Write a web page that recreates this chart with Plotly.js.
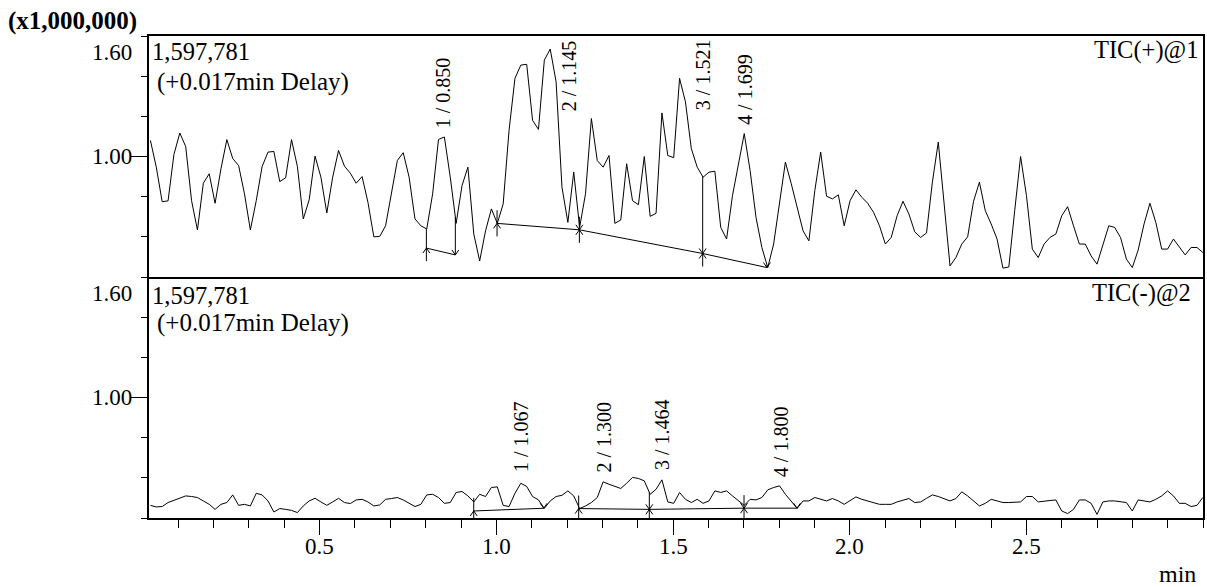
<!DOCTYPE html>
<html><head><meta charset="utf-8">
<script src="https://cdn.plot.ly/plotly-3.0.1.min.js"></script>
<style>html,body{margin:0;padding:0;background:#fff;} #chart{width:1207px;height:587px;}</style>
</head><body><div id="chart"></div>
<script>
// ---------- data ----------
const scanStart = 0.021;      // min, first scan shown
const scanInterval = 0.01664; // min between scans
const ticPositive = [
1.080,0.947,0.775,0.779,1.010,1.117,1.050,0.780,0.634,0.867,
0.914,0.767,0.939,1.084,0.990,0.955,0.814,0.634,0.780,0.950,
1.022,1.025,0.875,0.894,1.084,0.950,0.689,0.784,1.002,0.897,
0.719,0.897,1.030,0.952,0.917,0.867,0.900,0.772,0.600,0.602,
0.655,0.822,0.980,1.019,0.897,0.689,0.655,0.639,0.814,1.085,
1.097,0.897,0.667,0.855,0.947,0.614,0.480,0.630,0.739,0.667,
0.764,1.130,1.389,1.455,1.459,1.180,1.135,1.480,1.535,1.372,
0.847,0.672,0.922,0.647,0.814,1.189,0.980,0.947,1.005,0.667,
0.684,0.964,0.780,0.760,1.000,0.702,0.717,1.217,1.005,0.994,
1.389,1.272,1.039,0.947,0.897,0.922,0.927,0.647,0.589,0.805,
0.964,1.114,0.930,0.697,0.547,0.447,0.564,0.780,0.972,0.864,
0.747,0.630,0.580,0.830,1.022,0.802,0.789,0.809,0.655,0.780,
0.834,0.797,0.767,0.722,0.655,0.564,0.597,0.705,0.777,0.714,
0.625,0.597,0.619,0.872,1.072,0.747,0.455,0.497,0.564,0.600,
0.777,0.872,0.730,0.664,0.589,0.444,0.450,0.730,1.000,0.805,
0.539,0.497,0.564,0.597,0.614,0.705,0.750,0.655,0.564,0.564,
0.505,0.464,0.564,0.655,0.647,0.597,0.489,0.447,0.534,0.664,
0.767,0.672,0.539,0.539,0.589,0.550,0.510,0.547,0.547,0.522];
const ticNegative = [
0.463,0.455,0.457,0.477,0.488,0.498,0.510,0.507,0.502,0.485,
0.468,0.443,0.468,0.477,0.515,0.463,0.468,0.460,0.523,0.515,
0.485,0.430,0.447,0.443,0.438,0.427,0.460,0.485,0.498,0.480,
0.463,0.480,0.498,0.477,0.472,0.490,0.493,0.480,0.460,0.465,
0.493,0.497,0.502,0.490,0.473,0.457,0.468,0.515,0.518,0.502,
0.473,0.477,0.527,0.532,0.510,0.480,0.518,0.507,0.552,0.555,
0.463,0.457,0.523,0.573,0.557,0.507,0.490,0.448,0.485,0.507,
0.513,0.535,0.510,0.447,0.460,0.477,0.502,0.580,0.568,0.557,
0.547,0.573,0.602,0.597,0.585,0.518,0.543,0.590,0.480,0.473,
0.527,0.493,0.477,0.493,0.473,0.485,0.535,0.527,0.535,0.510,
0.485,0.463,0.493,0.490,0.502,0.540,0.552,0.560,0.518,0.485,
0.448,0.485,0.485,0.502,0.493,0.485,0.497,0.485,0.468,0.485,
0.505,0.493,0.485,0.477,0.468,0.468,0.468,0.480,0.490,0.497,
0.477,0.480,0.498,0.515,0.507,0.497,0.485,0.497,0.530,0.510,
0.485,0.460,0.473,0.493,0.485,0.477,0.477,0.477,0.480,0.507,
0.507,0.480,0.485,0.487,0.490,0.435,0.422,0.443,0.490,0.490,
0.473,0.418,0.480,0.485,0.485,0.480,0.477,0.435,0.490,0.485,
0.480,0.493,0.510,0.535,0.510,0.473,0.473,0.457,0.463,0.502];

const timeRange = [0.017, 3.0];
const intensityRange = [0.4, 1.6];
const xTickValues = [0.5, 1.0, 1.5, 2.0, 2.5];
const xTickLabels = ['0.5', '1.0', '1.5', '2.0', '2.5'];
const yTickValues = [1.0];
const yTickLabels = ['1.00'];
const yTopLabel = '1.60';
const scaleLabel = '(x1,000,000)';
const timeUnit = 'min';
const maxIntensityText = '1,597,781';
const delayText = '(+0.017min Delay)';
const channelNames = ['TIC(+)@1', 'TIC(-)@2'];

const posPeakLabels = ['1 / 0.850', '2 / 1.145', '3 / 1.521', '4 / 1.699'];
const posPeakLabelTimes = [0.850, 1.204, 1.587, 1.705];
const posPeakLabelHeights = [1.13, 1.215, 1.222, 1.147];
const posBoundaryTimes = [0.802, 0.884, 1.002, 1.235, 1.584, 1.766];
const posBoundaryBase = [0.544, 0.510, 0.667, 0.635, 0.517, 0.447];

const negPeakLabels = ['1 / 1.067', '2 / 1.300', '3 / 1.464', '4 / 1.800'];
const negPeakLabelTimes = [1.068, 1.304, 1.469, 1.804];
const negPeakLabelHeights = [0.618, 0.618, 0.627, 0.593];
const negBoundaryTimes = [0.936, 1.134, 1.233, 1.433, 1.701, 1.851];
const negBoundaryBase = [0.435, 0.4485, 0.447, 0.443, 0.449, 0.449];

const boundaryKinds = ['start', 'end', 'start', 'both', 'both', 'end'];

// ---------- drawing ----------
const FONT = 'Liberation Serif, Times New Roman, serif';
const LINE = 'black';
const EXT = 0.065, HW = 0.0099, HH = 0.025;

function valueAt(series, t) {
  const f = (t - scanStart) / scanInterval;
  const i = Math.max(0, Math.min(series.length - 2, Math.floor(f)));
  const r = f - i;
  return series[i] * (1 - r) + series[i + 1] * r;
}

function peakMarks(series, times, base, kinds) {
  const x = [], y = [];
  for (let k = 0; k < times.length; k++) {
    const t = times[k], b = base[k], kind = kinds[k];
    if ((kind === 'start' || kind === 'both') && k + 1 < times.length) {
      x.push(t, times[k + 1], null); y.push(b, base[k + 1], null);
    }
    const tr = valueAt(series, t);
    let top, bot;
    if (kind === 'end') { top = Math.max(tr, b); bot = b; }
    else { top = Math.max(tr, b + EXT); bot = b - EXT; }
    x.push(t, t, null); y.push(top, bot, null);
    if (kind === 'start' || kind === 'both') {
      x.push(t - HW, t, t + HW, null); y.push(b - HH, b, b - HH, null);
    }
    if (kind === 'end' || kind === 'both') {
      x.push(t - HW, t, t + HW, null); y.push(b + HH, b, b + HH, null);
    }
  }
  return {x, y};
}

const posMarks = peakMarks(ticPositive, posBoundaryTimes, posBoundaryBase, boundaryKinds);
const negMarks = peakMarks(ticNegative, negBoundaryTimes, negBoundaryBase, boundaryKinds);

const traces = [
  {type: 'scatter', mode: 'lines', y: ticPositive, x0: scanStart, dx: scanInterval,
   xaxis: 'x2', yaxis: 'y2', line: {color: LINE, width: 1}, hoverinfo: 'skip'},
  {type: 'scatter', mode: 'lines', y: ticNegative, x0: scanStart, dx: scanInterval,
   xaxis: 'x', yaxis: 'y', line: {color: LINE, width: 1}, hoverinfo: 'skip'},
  {type: 'scatter', mode: 'lines', x: posMarks.x, y: posMarks.y, xaxis: 'x2', yaxis: 'y2',
   line: {color: LINE, width: 1}, connectgaps: false, hoverinfo: 'skip'},
  {type: 'scatter', mode: 'lines', x: negMarks.x, y: negMarks.y, xaxis: 'x', yaxis: 'y',
   line: {color: LINE, width: 1}, connectgaps: false, hoverinfo: 'skip'}
];

const PL = 149, PT = 36, PW = 1054, PH = 482;
const px = v => (v - PL) / PW;
const py = v => (PT + PH - v) / PH;

function textAnn(text, x, y, xanchor, size, bold) {
  return {xref: 'paper', yref: 'paper', x: px(x), y: py(y), xanchor: xanchor, yanchor: 'middle',
    text: bold ? '<b>' + text + '</b>' : text, showarrow: false,
    font: {family: FONT, size: size, color: 'black'}};
}

const annotations = [
  textAnn(scaleLabel, 6, 21, 'left', 25, true),
  textAnn(yTopLabel, 134, 52, 'right', 23),
  textAnn(yTopLabel, 134, 293, 'right', 23),
  textAnn(maxIntensityText, 150, 51, 'left', 24.5),
  textAnn(delayText, 155, 82, 'left', 25),
  textAnn(channelNames[0], 1200, 50, 'right', 24.5),
  textAnn(maxIntensityText, 150, 295, 'left', 24.5),
  textAnn(delayText, 155, 323, 'left', 25),
  textAnn(channelNames[1], 1193, 293, 'right', 24.5),
  textAnn(timeUnit, 1198, 574, 'right', 24)
];
// tick labels placed tight against their ticks
xTickValues.forEach((v, i) => annotations.push({xref: 'x', yref: 'paper', x: v, y: py(546.5),
  xanchor: 'center', yanchor: 'middle', text: xTickLabels[i], showarrow: false,
  font: {family: FONT, size: 23, color: 'black'}}));
['y', 'y2'].forEach(ax => yTickValues.forEach((v, i) => annotations.push({xref: 'paper', yref: ax,
  x: px(134), y: v, xanchor: 'right', yanchor: 'middle', text: yTickLabels[i], showarrow: false,
  font: {family: FONT, size: 23, color: 'black'}})));
posPeakLabels.forEach((t, i) => annotations.push({xref: 'x2', yref: 'y2', x: posPeakLabelTimes[i],
  y: posPeakLabelHeights[i], text: t, textangle: -90, xanchor: 'center', yanchor: 'bottom',
  showarrow: false, font: {family: FONT, size: 20, color: 'black'}}));
negPeakLabels.forEach((t, i) => annotations.push({xref: 'x', yref: 'y', x: negPeakLabelTimes[i],
  y: negPeakLabelHeights[i], text: t, textangle: -90, xanchor: 'center', yanchor: 'bottom',
  showarrow: false, font: {family: FONT, size: 20, color: 'black'}}));

const yCommon = {range: intensityRange, tickvals: yTickValues, showticklabels: false,
  ticks: 'outside', ticklen: 16, tickwidth: 1, tickcolor: 'black',
  minor: {dtick: 0.2, tick0: 0.4, ticks: 'outside', ticklen: 6, tickwidth: 1, tickcolor: 'black', showgrid: false},
  showline: true, linecolor: 'black', linewidth: 2, mirror: true, showgrid: false, zeroline: false,
  fixedrange: true};

const layout = {
  width: 1207, height: 587,
  margin: {l: PL, r: 1207 - PL - PW, t: PT, b: 587 - PT - PH, pad: 0},
  paper_bgcolor: 'white', plot_bgcolor: 'white', showlegend: false,
  font: {family: FONT, color: 'black'},
  xaxis: {domain: [0, 1], anchor: 'y', range: timeRange, tickvals: xTickValues, showticklabels: false,
    ticks: 'outside', ticklen: 15, tickwidth: 1, tickcolor: 'black',
    minor: {dtick: 0.1, tick0: 0, ticks: 'outside', ticklen: 8, tickwidth: 1, tickcolor: 'black', showgrid: false},
    showline: true, linecolor: 'black', linewidth: 2, mirror: false, showgrid: false, zeroline: false},
  xaxis2: {domain: [0, 1], anchor: 'y2', matches: 'x', range: timeRange, showticklabels: false, ticks: '',
    showline: true, linecolor: 'black', linewidth: 2, mirror: true, showgrid: false, zeroline: false},
  yaxis: Object.assign({domain: [0, 0.5], anchor: 'x'}, yCommon),
  yaxis2: Object.assign({domain: [0.5, 1], anchor: 'x2'}, yCommon),
  annotations: annotations
};

Plotly.newPlot('chart', traces, layout, {displayModeBar: false, staticPlot: true});
</script></body></html>
